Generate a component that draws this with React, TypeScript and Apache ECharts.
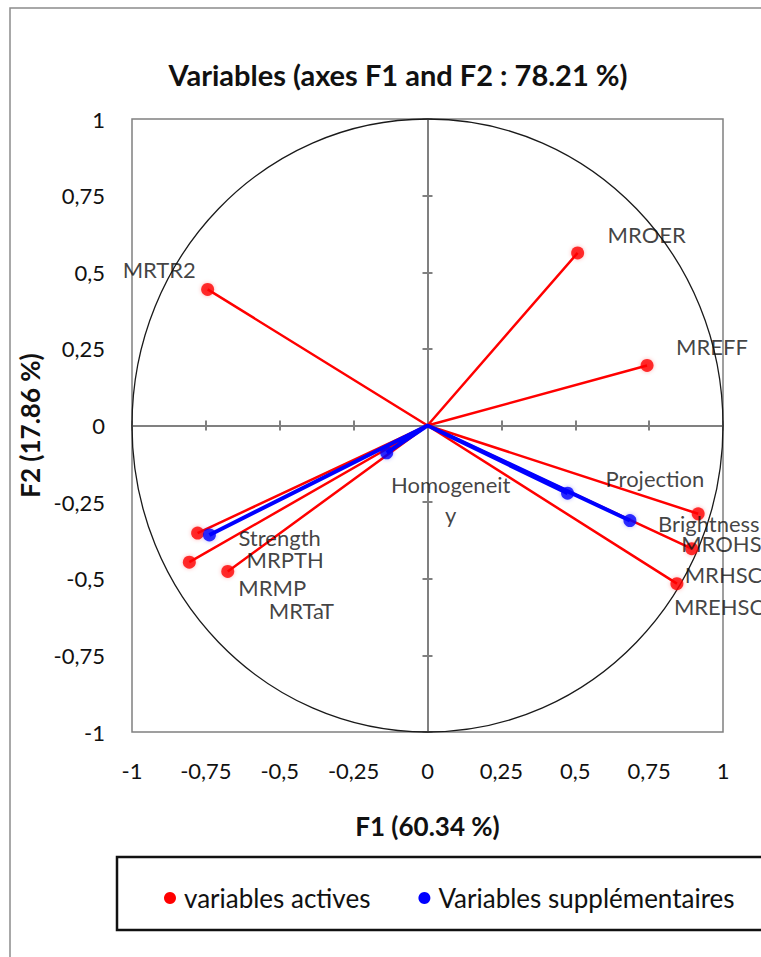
import { useEffect, useRef } from 'react';
import * as echarts from 'echarts';

// Active variables (red)
const activeNames = ['MRTR2', 'MROER', 'MREFF', 'MROHSC', 'MRHSC', 'MREHSC', 'MRPTH', 'MRMP', 'MRTaT'];
const activeF1 = [-0.744, 0.508, 0.743, 0.916, 0.894, 0.844, -0.778, -0.806, -0.676];
const activeF2 = [0.444, 0.563, 0.196, -0.288, -0.402, -0.516, -0.351, -0.446, -0.476];

// Supplementary variables (blue)
const supNames = ['Strength', 'Homogeneity', 'Projection', 'Brightness'];
const supF1 = [-0.738, -0.138, 0.474, 0.685];
const supF2 = [-0.357, -0.089, -0.221, -0.31];

const tickLabels = ['-1', '-0,75', '-0,5', '-0,25', '0', '0,25', '0,5', '0,75', '1'];

// label placement (px offset from the point), kept apart from the values
const labelOffset: Record<string, [number, number]> = {
  MRTR2: [-85, -20],
  MROER: [30, -18],
  MREFF: [29, -19],
  MROHSC: [-17, 30],
  MRHSC: [-7, 26],
  MREHSC: [-3, 23],
  MRPTH: [49, 26],
  MRMP: [49, 25],
  MRTaT: [41, 39],
  Strength: [29, 3],
  Homogeneity: [64, 47],
  Projection: [38, -15],
  Brightness: [28, 3],
};

const FONT = 'Lato';
const RED = '#ff0000';
const BLUE = '#0000ff';
const GREY = '#808080';
const INK = '#111';

const fmtTick = (v: number) => tickLabels[Math.round((v + 1) / 0.25)] ?? String(v);

const vectors = (xs: number[], ys: number[]) =>
  xs.flatMap((x, i) => [[0, 0], [x, ys[i]]]);

const points = (names: string[], xs: number[], ys: number[]) =>
  names.map((n, i) => ({
    name: n,
    value: [xs[i], ys[i]],
    label: {
      offset: labelOffset[n],
      align: n === 'Homogeneity' ? 'center' : 'left',
    },
  }));

const GRID = { left: 132, top: 119, width: 591, height: 613 };

function valueAxis(extra: any) {
  return {
    type: 'value',
    min: -1,
    max: 1,
    interval: 0.25,
    splitLine: { show: false },
    ...extra,
  };
}

const zeroLine = { show: true, onZero: true, lineStyle: { color: GREY, width: 2 } };
const zeroTick = { show: true, length: 5, lineStyle: { color: GREY, width: 2 } };

export default function App() {
  const ref = useRef<HTMLDivElement | null>(null);

  useEffect(() => {
    if (!ref.current) return;
    const chart = echarts.init(ref.current, undefined, { renderer: 'svg' });

    const tickLabel = {
      fontFamily: FONT,
      fontSize: 22,
      color: INK,
      formatter: fmtTick,
    };

    const pointLabel = {
      show: true,
      formatter: (p: any) => (p.name === 'Homogeneity' ? 'Homogeneit\ny' : p.name),
      position: 'inside',
      verticalAlign: 'middle',
      fontFamily: FONT,
      fontSize: 22,
      lineHeight: 30,
      color: INK,
    };

    const nameStyle = { fontFamily: FONT, fontSize: 26, fontWeight: 'bold', color: INK };

    chart.setOption({
      animation: false,
      backgroundColor: '#fff',
      title: {
        text: 'Variables (axes F1 and F2 : 78.21 %)',
        left: 393,
        top: 55,
        textAlign: 'center',
        textStyle: { fontFamily: FONT, fontSize: 29, fontWeight: 'bold', color: INK },
      },
      legend: {
        data: ['variables actives', 'Variables supplémentaires'],
        left: 164,
        top: 885,
        padding: 0,
        icon: 'circle',
        itemWidth: 12,
        itemHeight: 12,
        itemGap: 48,
        selectedMode: false,
        textStyle: { fontFamily: FONT, fontSize: 26, color: INK, padding: [0, 0, 0, 3] },
      },
      grid: [
        { ...GRID, show: true, borderColor: GREY, borderWidth: 1.5 },
        { ...GRID, show: false },
      ],
      xAxis: [
        valueAxis({
          gridIndex: 0,
          position: 'bottom',
          axisLine: { show: false, onZero: false },
          axisTick: { show: false },
          axisLabel: { ...tickLabel, margin: 27 },
          name: 'F1 (60.34 %)',
          nameLocation: 'middle',
          nameGap: 81,
          nameTextStyle: nameStyle,
        }),
        valueAxis({
          gridIndex: 0,
          position: 'top',
          axisLine: zeroLine,
          axisTick: zeroTick,
          axisLabel: { show: false },
        }),
        valueAxis({
          gridIndex: 1,
          position: 'bottom',
          axisLine: zeroLine,
          axisTick: zeroTick,
          axisLabel: { show: false },
        }),
      ],
      yAxis: [
        valueAxis({
          gridIndex: 0,
          position: 'left',
          axisLine: { show: false, onZero: false },
          axisTick: { show: false },
          axisLabel: { ...tickLabel, margin: 27, padding: [10, 0, 0, 0] },
          name: 'F2 (17.86 %)',
          nameLocation: 'middle',
          nameGap: 82,
          nameTextStyle: nameStyle,
        }),
        valueAxis({
          gridIndex: 0,
          position: 'right',
          axisLine: zeroLine,
          axisTick: zeroTick,
          axisLabel: { show: false },
        }),
        valueAxis({
          gridIndex: 1,
          position: 'left',
          axisLine: zeroLine,
          axisTick: zeroTick,
          axisLabel: { show: false },
        }),
      ],
      series: [
        {
          name: 'variables actives',
          type: 'line',
          xAxisIndex: 0,
          yAxisIndex: 0,
          data: vectors(activeF1, activeF2),
          symbol: 'none',
          color: RED,
          lineStyle: { color: RED, width: 2.5 },
          z: 3,
        },
        {
          name: 'Variables supplémentaires',
          type: 'line',
          xAxisIndex: 0,
          yAxisIndex: 0,
          data: vectors(supF1, supF2),
          symbol: 'none',
          color: BLUE,
          lineStyle: { color: BLUE, width: 4 },
          z: 4,
        },
        {
          name: 'variables actives',
          type: 'scatter',
          xAxisIndex: 0,
          yAxisIndex: 0,
          data: points(activeNames, activeF1, activeF2),
          symbolSize: 13,
          itemStyle: { color: RED, shadowBlur: 4, shadowColor: 'rgba(255,0,0,0.35)' },
          label: pointLabel,
          z: 5,
        },
        {
          name: 'Variables supplémentaires',
          type: 'scatter',
          xAxisIndex: 0,
          yAxisIndex: 0,
          data: points(supNames, supF1, supF2),
          symbolSize: 13,
          itemStyle: { color: BLUE, shadowBlur: 4, shadowColor: 'rgba(0,0,255,0.35)' },
          label: pointLabel,
          z: 6,
        },
      ],
    });

    // unit circle and frames, placed through the chart's own scales
    const c0 = chart.convertToPixel({ xAxisIndex: 0, yAxisIndex: 0 }, [0, 0]) as number[];
    const c1 = chart.convertToPixel({ xAxisIndex: 0, yAxisIndex: 0 }, [1, 1]) as number[];
    chart.setOption({
      graphic: [
        {
          type: 'rect',
          z: 0,
          silent: true,
          shape: { x: 10, y: 8, width: 820, height: 1000 },
          style: { fill: 'none', stroke: '#8c8c8c', lineWidth: 1.5 },
        },
        {
          type: 'rect',
          z: 0,
          silent: true,
          shape: { x: 117, y: 857, width: 700, height: 73 },
          style: { fill: 'none', stroke: '#111', lineWidth: 2.5 },
        },
        {
          type: 'ellipse',
          z: 1,
          silent: true,
          shape: { cx: c0[0], cy: c0[1], rx: c1[0] - c0[0], ry: c0[1] - c1[1] },
          style: { fill: 'none', stroke: '#1a1a1a', lineWidth: 1.3 },
        },
      ],
    });

    return () => {
      chart.dispose();
    };
  }, []);

  return (
    <div
      ref={ref}
      style={{ position: 'absolute', left: 0, top: 0, width: 761, height: 957 }}
    />
  );
}
